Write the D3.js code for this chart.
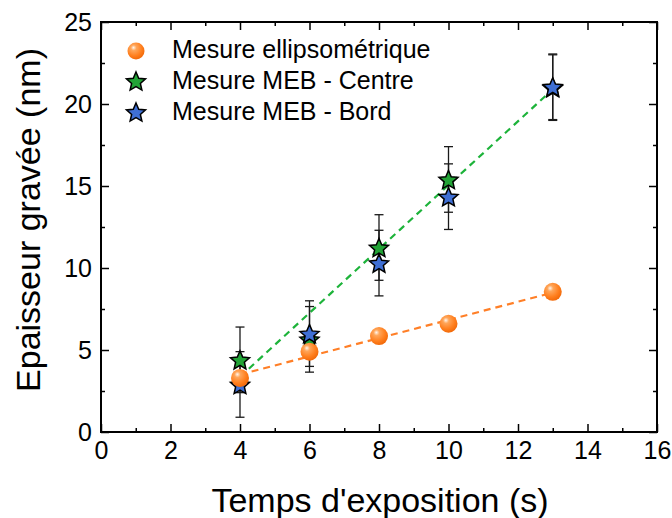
<!DOCTYPE html>
<html><head><meta charset="utf-8">
<script src="https://cdn.jsdelivr.net/npm/d3@7"></script>
<style>body{margin:0;background:#fff}svg{display:block}text{font-family:"Liberation Sans",Arial,sans-serif}</style>
</head><body>
<script>
const xTicks = [0,2,4,6,8,10,12,14,16];
const yTicks = [0,5,10,15,20,25];
const ellipsoX = [4,6,8,10,13];
const ellipsoY = [3.3,4.9,5.85,6.6,8.55];
const centreX = [4,6,8,10,13];
const centreY = [4.4,5.65,11.25,15.4,21.0];
const centreErr = [2,2,2,2,2];
const bordX = [4,6,8,10,13];
const bordY = [2.9,6.0,10.3,14.35,21.05];
const bordErr = [2,2,2,2,2];
const fitEllipso = [[4,3.5],[13,8.5]];
const fitCentre = [[4,3.36],[13,20.9]];
const legendLabels = ["Mesure ellipsométrique","Mesure MEB - Centre","Mesure MEB - Bord"];

const W=672,H=518;
const L=101,R=657,T=22,B=432;
const svg=d3.select("body").append("svg").attr("width",W).attr("height",H);
const x=d3.scaleLinear().domain([0,16]).range([L,R]);
const y=d3.scaleLinear().domain([0,25]).range([B,T]);

const defs=svg.append("defs");
const g=defs.append("radialGradient").attr("id","sph").attr("cx","40%").attr("cy","35%").attr("r","65%").attr("fx","35%").attr("fy","30%");
g.append("stop").attr("offset","0%").attr("stop-color","#fff6ee");
g.append("stop").attr("offset","25%").attr("stop-color","#ffa65a");
g.append("stop").attr("offset","70%").attr("stop-color","#ff7f1e");
g.append("stop").attr("offset","100%").attr("stop-color","#f26a0a");

const minorX=[1,3,5,7,9,11,13,15], minorY=[2.5,7.5,12.5,17.5,22.5];
svg.append("g").attr("transform",`translate(0,${B})`)
  .call(d3.axisBottom(x).tickValues(xTicks).tickSize(-8).tickPadding(9).tickFormat(d3.format("d")));
svg.append("g").attr("transform",`translate(0,${B})`)
  .call(d3.axisBottom(x).tickValues(minorX).tickSize(-4).tickFormat(""));
svg.append("g").attr("transform",`translate(0,${T})`)
  .call(d3.axisTop(x).tickValues(xTicks).tickSize(-8).tickFormat(""));
svg.append("g").attr("transform",`translate(0,${T})`)
  .call(d3.axisTop(x).tickValues(minorX).tickSize(-4).tickFormat(""));
svg.append("g").attr("transform",`translate(${L},0)`)
  .call(d3.axisLeft(y).tickValues(yTicks).tickSize(-8).tickPadding(9).tickFormat(d3.format("d")));
svg.append("g").attr("transform",`translate(${L},0)`)
  .call(d3.axisLeft(y).tickValues(minorY).tickSize(-4).tickFormat(""));
svg.append("g").attr("transform",`translate(${R},0)`)
  .call(d3.axisRight(y).tickValues(yTicks).tickSize(-8).tickFormat(""));
svg.append("g").attr("transform",`translate(${R},0)`)
  .call(d3.axisRight(y).tickValues(minorY).tickSize(-4).tickFormat(""));
svg.selectAll(".domain").remove();
svg.selectAll(".tick line").attr("stroke","#000").attr("stroke-width",1.5);
svg.selectAll(".tick text").attr("font-size",25).attr("fill","#000");
svg.append("rect").attr("x",L).attr("y",T).attr("width",R-L).attr("height",B-T)
  .attr("fill","none").attr("stroke","#000").attr("stroke-width",2);

// axis labels
svg.append("text").attr("x",380).attr("y",512).attr("text-anchor","middle")
  .attr("font-size",34).text("Temps d'exposition (s)");
svg.append("text").attr("transform",`translate(40,220) rotate(-90)`).attr("text-anchor","middle")
  .attr("font-size",34).text("Epaisseur gravée (nm)");

// fit lines
const line=d3.line().x(d=>x(d[0])).y(d=>y(d[1]));
svg.append("path").datum(fitEllipso).attr("d",line).attr("fill","none")
  .attr("stroke","#ff7f27").attr("stroke-width",2.2).attr("stroke-dasharray","7,5");
svg.append("path").datum(fitCentre).attr("d",line).attr("fill","none")
  .attr("stroke","#1db33a").attr("stroke-width",2.2).attr("stroke-dasharray","7,5");

// error bars
function errbars(xs,ys,es){
  const gg=svg.append("g").attr("stroke","#1a1a1a").attr("stroke-width",1.3);
  xs.forEach((xv,i)=>{
    const cx=x(xv),y1=y(ys[i]+es[i]),y0=y(ys[i]-es[i]);
    gg.append("line").attr("x1",cx).attr("x2",cx).attr("y1",y1).attr("y2",y0);
    gg.append("line").attr("x1",cx-4.5).attr("x2",cx+4.5).attr("y1",y1).attr("y2",y1);
    gg.append("line").attr("x1",cx-4.5).attr("x2",cx+4.5).attr("y1",y0).attr("y2",y0);
  });
}
errbars(centreX,centreY,centreErr);
errbars(bordX,bordY,bordErr);

// custom star shape
function starPath(Ro,ratio){
  const p=d3.path();
  for(let k=0;k<10;k++){
    const r=k%2?Ro*ratio:Ro;
    const a=-Math.PI/2+k*Math.PI/5;
    const px=r*Math.cos(a), py=r*Math.sin(a);
    k?p.lineTo(px,py):p.moveTo(px,py);
  }
  p.closePath();
  return p.toString();
}
const starD=starPath(10,0.46);
function stars(xs,ys,color){
  svg.append("g").selectAll("path").data(xs).join("path")
    .attr("d",starD).attr("transform",(d,i)=>`translate(${x(d)},${y(ys[i])+1})`)
    .attr("fill",color).attr("stroke","#000").attr("stroke-width",1.5).attr("stroke-linejoin","miter");
}
stars(centreX,centreY,"#22a336");
stars(bordX,bordY,"#3f6fd4");

svg.append("g").selectAll("circle").data(ellipsoX).join("circle")
  .attr("cx",d=>x(d)).attr("cy",(d,i)=>y(ellipsoY[i])).attr("r",9).attr("fill","url(#sph)");

// legend
const lg=svg.append("g");
const lys=[58,89,120];
lg.append("circle").attr("cx",136).attr("cy",lys[0]-7).attr("r",8.5).attr("fill","url(#sph)");
lg.append("path").attr("d",starD).attr("transform",`translate(136,${lys[1]-7})`).attr("fill","#22a336").attr("stroke","#000").attr("stroke-width",1.5);
lg.append("path").attr("d",starD).attr("transform",`translate(136,${lys[2]-7})`).attr("fill","#3f6fd4").attr("stroke","#000").attr("stroke-width",1.5);
legendLabels.forEach((t,i)=>{
  lg.append("text").attr("x",172).attr("y",lys[i]).attr("font-size",25).text(t);
});
</script>
</body></html>
